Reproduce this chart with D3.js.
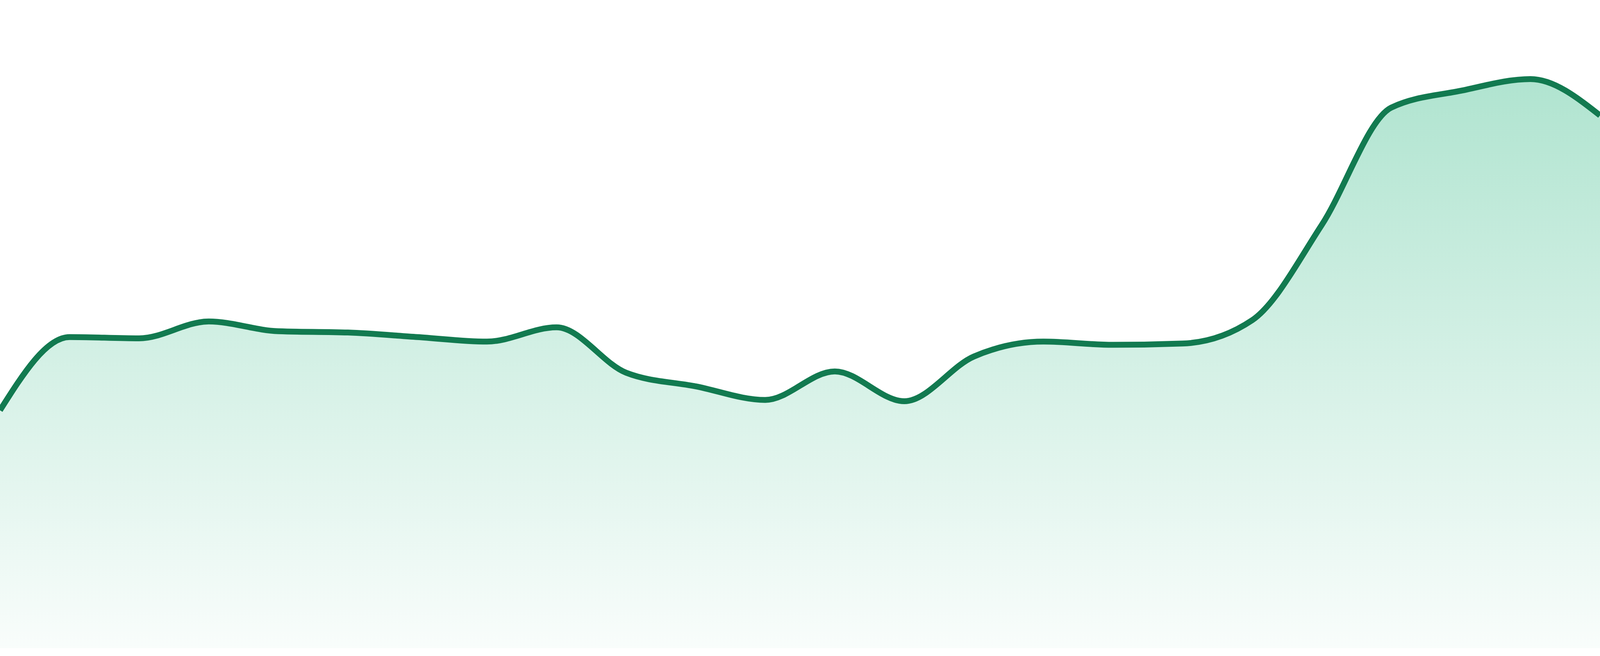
<!DOCTYPE html>
<html>
<head>
<meta charset="utf-8">
<script src="https://cdn.jsdelivr.net/npm/d3@7"></script>
<style>
  html, body { margin: 0; padding: 0; background: #ffffff; overflow: hidden; }
  svg { display: block; }
</style>
</head>
<body>
<div class="chart_area"></div>
<script>
// categories (one per sample, evenly spaced along the x axis)
var days = [1, 2, 3, 4, 5, 6, 7, 8, 9, 10, 11, 12,
            13, 14, 15, 16, 17, 18, 19, 20, 21, 22, 23, 24];

// series values (arbitrary units 0-100)
var values = [36.7, 48.0, 47.8, 50.4, 48.9, 48.7, 48.0, 47.3,
              49.5, 42.5, 40.4, 38.3, 42.7, 38.1, 45.0, 47.3,
              46.8, 47.0, 50.6, 65.3, 83.4, 86.0, 87.8, 82.2];

var yDomain = [0, 100];

// draw into whatever the window really is (design size 4800 x 1680)
var width = window.innerWidth || 4800;
var height = window.innerHeight || 1680;
var k = height / 1680;
var baseline = height - 20 * k; // area stops a little above the bottom edge

var data = days.map(function(d, i) { return { day: d, value: values[i] }; });

var svg = d3.select(".chart_area")
            .append("svg")
            .attr("width", width)
            .attr("height", height);

var scaleX = d3.scaleLinear()
               .domain([d3.min(days), d3.max(days)])
               .range([0, width]);

var scaleY = d3.scaleLinear()
               .domain(yDomain)
               .range([baseline, 0]);

// soft green fade, strongest under the highest point
var defs = svg.append("defs");
var grad = defs.append("linearGradient")
               .attr("id", "fillFade")
               .attr("x1", 0).attr("y1", 0)
               .attr("x2", 0).attr("y2", 1);
grad.append("stop").attr("offset", "0%")
    .attr("stop-color", "#2fb883").attr("stop-opacity", 0.38);
grad.append("stop").attr("offset", "100%")
    .attr("stop-color", "#2fb883").attr("stop-opacity", 0.03);

var area = d3.area()
             .curve(d3.curveMonotoneX)
             .x(function(d) { return scaleX(d.day); })
             .y0(scaleY(0))
             .y1(function(d) { return scaleY(d.value); });

var line = d3.line()
             .curve(d3.curveMonotoneX)
             .x(function(d) { return scaleX(d.day); })
             .y(function(d) { return scaleY(d.value); });

svg.append("path")
   .datum(data)
   .attr("class", "area")
   .attr("d", area)
   .style("fill", "url(#fillFade)");

svg.append("path")
   .datum(data)
   .attr("class", "line")
   .attr("d", line)
   .style("fill", "none")
   .style("stroke", "#127a50")
   .style("stroke-width", 15 * k);
</script>
</body>
</html>
